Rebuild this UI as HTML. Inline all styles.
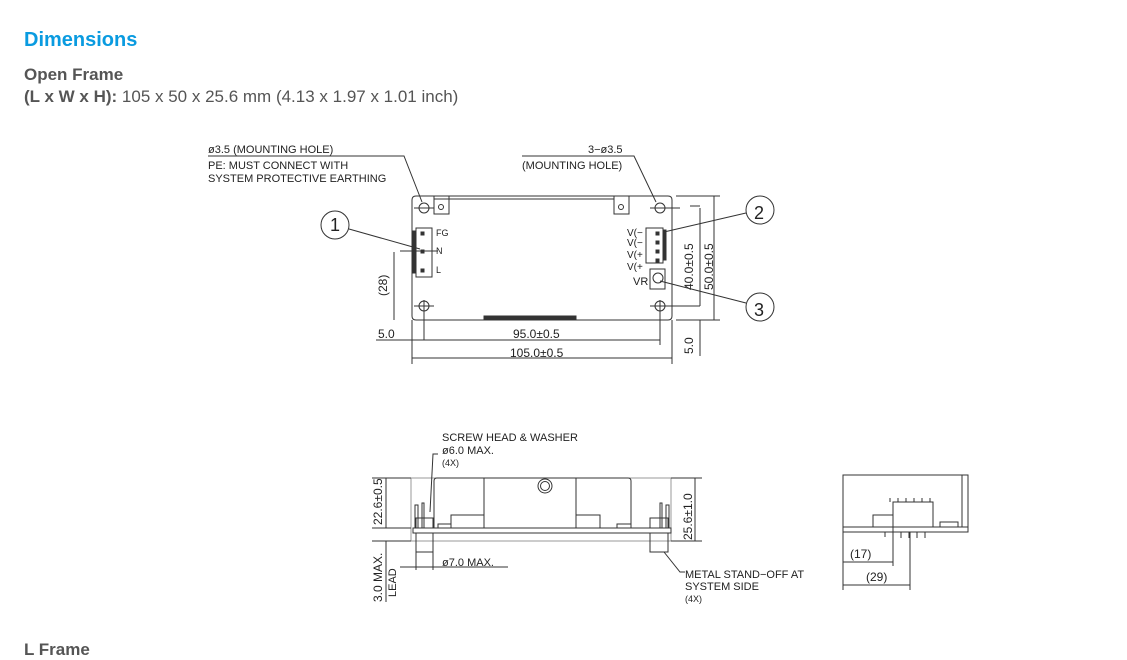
<!DOCTYPE html>
<html><head><meta charset="utf-8"><style>
body{margin:0;width:1127px;height:655px;background:#fff;overflow:hidden;font-family:"Liberation Sans",sans-serif;position:relative}
.t{position:absolute;left:24px;color:#555;font-weight:bold;font-size:17px}
svg{position:absolute;left:0;top:0}
svg text{font-family:"Liberation Sans",sans-serif;fill:#222}
</style></head><body>
<div class="t" style="top:29px;color:#0a9be0;font-size:20px">Dimensions</div>
<div class="t" style="top:65px">Open Frame</div>
<div class="t" style="top:87px">(L x W x H): <span style="font-weight:normal">105 x 50 x 25.6 mm (4.13 x 1.97 x 1.01 inch)</span></div>
<div class="t" style="top:640px">L Frame</div>
<svg width="1127" height="655" viewBox="0 0 1127 655" stroke="#333" fill="none" stroke-width="1">
<g font-size="11" stroke="none" fill="#222">
<text x="208" y="153">ø3.5 (MOUNTING HOLE)</text>
<text x="208" y="169">PE: MUST CONNECT WITH</text>
<text x="208" y="182">SYSTEM PROTECTIVE EARTHING</text>
<text x="588" y="153">3−ø3.5</text>
<text x="522" y="169">(MOUNTING HOLE)</text>
<text x="378" y="338" font-size="12">5.0</text>
<text x="513" y="338" font-size="12">95.0±0.5</text>
<text x="510" y="357" font-size="12">105.0±0.5</text>
<text x="436" y="236" font-size="9">FG</text>
<text x="436" y="254" font-size="9">N</text>
<text x="436" y="273" font-size="9">L</text>
<text x="627" y="236" font-size="10">V(−</text>
<text x="627" y="246" font-size="10">V(−</text>
<text x="627" y="258" font-size="10">V(+</text>
<text x="627" y="270" font-size="10">V(+</text>
<text x="633" y="285" font-size="11">VR</text>
<text transform="translate(387,296) rotate(-90)" font-size="12">(28)</text>
<text transform="translate(693,290) rotate(-90)" font-size="12">40.0±0.5</text>
<text transform="translate(713,290) rotate(-90)" font-size="12">50.0±0.5</text>
<text transform="translate(693,354) rotate(-90)" font-size="12">5.0</text>
<text x="442" y="441">SCREW HEAD &amp; WASHER</text>
<text x="442" y="454">ø6.0 MAX.</text>
<text x="442" y="466" font-size="9">(4X)</text>
<text x="442" y="566">ø7.0 MAX.</text>
<text x="685" y="578">METAL STAND−OFF AT</text>
<text x="685" y="590">SYSTEM SIDE</text>
<text x="685" y="602" font-size="9">(4X)</text>
<text x="850" y="558" font-size="12">(17)</text>
<text x="866" y="581" font-size="12">(29)</text>
<text transform="translate(382,525) rotate(-90)" font-size="12">22.6±0.5</text>
<text transform="translate(382,602) rotate(-90)" font-size="12">3.0 MAX.</text>
<text transform="translate(396,597) rotate(-90)" font-size="11">LEAD</text>
<text transform="translate(692,540) rotate(-90)" font-size="12">25.6±1.0</text>
<text x="330" y="231" font-size="18">1</text>
<text x="754" y="219" font-size="18">2</text>
<text x="754" y="316" font-size="18">3</text>
</g>
<polyline points="208,156 404,156 422,202"/>
<polyline points="522,156 634,156 656,202"/>
<circle cx="335" cy="225" r="14"/><line x1="349" y1="229" x2="420" y2="249"/>
<circle cx="760" cy="210" r="14"/><line x1="746" y1="213" x2="664" y2="232"/>
<circle cx="760" cy="307" r="14"/><line x1="746" y1="303" x2="660" y2="281"/>
<path d="M416,196 H668 Q672,196 672,200 V316 Q672,320 668,320 H416 Q412,320 412,316 V200 Q412,196 416,196Z"/>
<line x1="434" y1="199" x2="614" y2="199"/>
<rect x="434" y="196" width="15" height="18"/><circle cx="441" cy="207" r="2.5"/>
<rect x="614" y="196" width="15" height="18"/><circle cx="621" cy="207" r="2.5"/>
<circle cx="424" cy="208" r="5"/><circle cx="660" cy="208" r="5"/><circle cx="424" cy="306" r="5"/><circle cx="660" cy="306" r="5"/>
<line x1="414" y1="208" x2="434" y2="208"/><line x1="650" y1="208" x2="680" y2="208"/>
<line x1="414" y1="306" x2="434" y2="306"/><line x1="650" y1="306" x2="700" y2="306"/>
<line x1="424" y1="300" x2="424" y2="340"/><line x1="660" y1="300" x2="660" y2="345"/>
<rect x="416" y="228" width="16" height="49"/><rect x="413" y="231" width="3" height="42" fill="#333"/>
<rect x="421" y="232" width="3" height="3" fill="#333"/><rect x="421" y="250" width="3" height="3" fill="#333"/><rect x="421" y="269" width="3" height="3" fill="#333"/>
<line x1="400" y1="251" x2="438" y2="251"/>
<rect x="646" y="228" width="17" height="35"/><rect x="663" y="230" width="3" height="30" fill="#333"/>
<rect x="656" y="232" width="3" height="3" fill="#333"/><rect x="656" y="241" width="3" height="3" fill="#333"/><rect x="656" y="250" width="3" height="3" fill="#333"/><rect x="656" y="259" width="3" height="3" fill="#333"/>
<rect x="650" y="269" width="15" height="20"/><circle cx="658" cy="278" r="5"/>
<rect x="484" y="316" width="92" height="3" fill="#333"/>
<line x1="394" y1="252" x2="394" y2="320"/>
<line x1="376" y1="340" x2="660" y2="340"/>
<line x1="412" y1="320" x2="412" y2="364"/><line x1="672" y1="320" x2="672" y2="364"/>
<line x1="412" y1="358" x2="672" y2="358"/>
<line x1="676" y1="196" x2="720" y2="196"/><line x1="676" y1="320" x2="720" y2="320"/>
<line x1="700" y1="208" x2="700" y2="306"/><line x1="714" y1="196" x2="714" y2="320"/>
<line x1="690" y1="206" x2="700" y2="206"/>
<line x1="700" y1="320" x2="700" y2="356"/>
<!-- side view -->
<rect x="411" y="478" width="260" height="63" stroke="#999"/>
<rect x="413" y="528" width="258" height="5"/>
<path d="M434,528 V481 Q434,478 437,478 H628 Q631,478 631,481 V528 M484,478 V528 M576,478 V528"/>
<circle cx="545" cy="486" r="7"/><circle cx="545" cy="486" r="4.5"/>
<rect x="451" y="515" width="33" height="13"/><rect x="576" y="515" width="24" height="13"/>
<rect x="438" y="524" width="13" height="4"/><rect x="617" y="524" width="14" height="4"/>
<path d="M415,528 V505 H418 V528 M422,528 V503 H424 V528"/>
<rect x="416" y="518" width="17" height="10"/><rect x="416" y="533" width="17" height="19"/>
<path d="M669,528 V505 H666 V528 M660,528 V503 H662 V528"/>
<rect x="650" y="518" width="18" height="10"/><rect x="650" y="533" width="18" height="19"/>
<line x1="372" y1="478" x2="411" y2="478"/><line x1="372" y1="528" x2="411" y2="528"/><line x1="372" y1="541" x2="411" y2="541"/>
<line x1="386" y1="478" x2="386" y2="528"/><line x1="386" y1="541" x2="386" y2="602"/>
<line x1="671" y1="478" x2="702" y2="478"/><line x1="671" y1="541" x2="702" y2="541"/>
<line x1="695" y1="478" x2="695" y2="541"/>
<polyline points="438,454 433,454 430,512"/>
<line x1="416" y1="552" x2="416" y2="570"/><line x1="433" y1="552" x2="433" y2="570"/>
<line x1="400" y1="567" x2="508" y2="567"/>
<polyline points="664,552 680,572 685,572"/>
<!-- end view -->
<rect x="843" y="475" width="125" height="57"/>
<rect x="843" y="527" width="125" height="5"/>
<rect x="962" y="475" width="6" height="52"/>
<rect x="873" y="515" width="20" height="12"/>
<rect x="893" y="502" width="40" height="25"/>
<path d="M890,502 V498 M898,502 V498 M906,502 V498 M914,502 V498 M922,502 V498 M930,502 V498"/>
<path d="M885,532 V537 M893,532 V538 M901,532 V538 M909,532 V538 M917,532 V538 M925,532 V538"/>
<rect x="940" y="522" width="18" height="5"/>
<line x1="843" y1="532" x2="843" y2="590"/><line x1="893" y1="527" x2="893" y2="566"/><line x1="910" y1="532" x2="910" y2="590"/>
<line x1="843" y1="562" x2="893" y2="562"/><line x1="843" y1="585" x2="910" y2="585"/>
</svg>
</body></html>
